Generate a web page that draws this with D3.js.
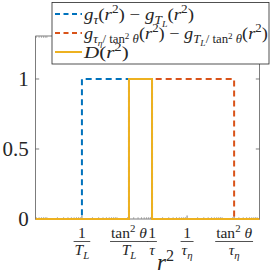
<!DOCTYPE html>
<html>
<head>
<meta charset="utf-8">
<script src="https://cdn.jsdelivr.net/npm/d3@7/dist/d3.min.js"></script>
<style>
  html, body { margin: 0; padding: 0; background: #fff; }
  svg { display: block; }
  text { font-family: "Liberation Serif", "Times New Roman", serif; fill: #262626; }
</style>
</head>
<body>
<div id="chart"></div>
<script>
// 数据：对数横轴上的阶跃函数（1/T_L = 1 为单位）
var xDomain = [0.048, 1.15e5];
var yDomain = [0, 1.307];
var yTicks = [0, 0.5, 1];
var yTickLabels = ['0', '0.5', '1'];
var xTicks = [1, 22, 100, 1000, 22000];

// 各条曲线的折点
var blueX = [0.048, 1, 1, 100, 100, 1.15e5];
var blueY = [0, 0, 1, 1, 0, 0];
var orangeX = [0.048, 22, 22, 22000, 22000, 1.15e5];
var orangeY = [0, 0, 1, 1, 0, 0];
var dX = [0.048, 22, 22, 100, 100, 1.15e5];
var dY = [0, 0, 1, 1, 0, 0];

var C = { blue: '#0072BD', orange: '#D95319', yellow: '#EDB120', axis: '#262626' };

// 数学文本片段：[文字, 'i'|'n', 层级]  层级 0 基线, 1 下标, 2 二级下标, -1 上标, 3 下标的上标
var LV = {
  0: { dy: 0, fs: 1 }, 1: { dy: 0.25, fs: 0.7 }, 2: { dy: 0.4, fs: 0.52 },
  '-1': { dy: -0.38, fs: 0.7 }, 3: { dy: 0.05, fs: 0.5 }
};
var legendRows = [
  { color: C.blue, dash: '5,3.5', w: 110, parts: [['g','i',0],['τ','i',1],['(','n',0],['r','i',0],['2','n',-1],[') − ','n',0],
    ['g','i',0],['T','i',1],['L','i',2],['(','n',0],['r','i',0],['2','n',-1],[')','n',0]] },
  { color: C.orange, dash: '5,3.5', w: 184, parts: [['g','i',0],['τ','i',1],['η','i',2],['/ tan','n',1],['2','n',3],[' θ','i',1],
    ['(','n',0],['r','i',0],['2','n',-1],[') − ','n',0],
    ['g','i',0],['T','i',1],['L','i',2],['/ tan','n',1],['2','n',3],[' θ','i',1],['(','n',0],['r','i',0],['2','n',-1],[')','n',0]] },
  { color: C.yellow, dash: null, w: 47, parts: [['D','i',0],['(','n',0],['r','i',0],['2','n',-1],[')','n',0]] }
];

var xTickNum = [
  [['1','n',0]], [['tan','n',0],['2','n',-1],[' θ','i',0]], [['1','n',0]], [['1','n',0]],
  [['tan','n',0],['2','n',-1],[' θ','i',0]]
];
var xTickDen = [
  [['T','i',0],['L','i',1]], [['T','i',0],['L','i',1]], [['τ','i',0]], [['τ','i',0],['η','i',1]], [['τ','i',0],['η','i',1]]
];

function mathText(sel, x, y, parts, size, anchor) {
  var t = sel.append('text').attr('x', x).attr('y', y).attr('font-size', size)
    .attr('text-anchor', anchor || 'start').attr('xml:space', 'preserve');
  var cur = 0;
  parts.forEach(function (p) {
    var lv = LV[p[2]];
    var off = lv.dy * size;
    t.append('tspan').text(p[0])
      .attr('dy', (off - cur).toFixed(2))
      .attr('font-size', (lv.fs * size).toFixed(2))
      .attr('font-style', p[1] === 'i' ? 'italic' : 'normal');
    cur = off;
  });
  return t;
}

var W = 277, H = 273;
var m = { l: 35.7, r: 259.3, t: 36, b: 219 };

var svg = d3.select('#chart').append('svg').attr('width', W).attr('height', H);

var x = d3.scaleLog().domain(xDomain).range([m.l, m.r]);
var y = d3.scaleLinear().domain(yDomain).range([m.b, m.t]);

// 轴框
var ax = svg.append('g');
ax.append('rect').attr('x', m.l).attr('y', m.t).attr('width', m.r - m.l).attr('height', m.b - m.t)
  .attr('fill', 'none').attr('stroke', C.axis).attr('stroke-width', 0.6);

// 次刻度（对数）
var minor = [];
for (var d = -2; d <= 5; d++) {
  for (var k = 1; k <= 9; k++) {
    var v = k * Math.pow(10, d);
    if (v > xDomain[0] && v < xDomain[1] && xTicks.indexOf(v) < 0) minor.push(v);
  }
}
minor.forEach(function (v) {
  ax.append('line').attr('x1', x(v)).attr('x2', x(v)).attr('y1', m.b).attr('y2', m.b - 2)
    .attr('stroke', '#777').attr('stroke-width', 0.5);
  ax.append('line').attr('x1', x(v)).attr('x2', x(v)).attr('y1', m.t).attr('y2', m.t + 2)
    .attr('stroke', '#777').attr('stroke-width', 0.5);
});
xTicks.forEach(function (v) {
  ax.append('line').attr('x1', x(v)).attr('x2', x(v)).attr('y1', m.b).attr('y2', m.b - 3.5)
    .attr('stroke', C.axis).attr('stroke-width', 0.6);
  ax.append('line').attr('x1', x(v)).attr('x2', x(v)).attr('y1', m.t).attr('y2', m.t + 3.5)
    .attr('stroke', C.axis).attr('stroke-width', 0.6);
});
yTicks.forEach(function (v, i) {
  ax.append('line').attr('x1', m.l).attr('x2', m.l + 3.5).attr('y1', y(v)).attr('y2', y(v))
    .attr('stroke', C.axis).attr('stroke-width', 0.6);
  ax.append('line').attr('x1', m.r).attr('x2', m.r - 3.5).attr('y1', y(v)).attr('y2', y(v))
    .attr('stroke', C.axis).attr('stroke-width', 0.6);
  ax.append('text').attr('x', m.l - 7).attr('y', y(v)).attr('dy', '0.34em')
    .attr('text-anchor', 'end').attr('font-size', 21).text(yTickLabels[i]);
});

// x 刻度标签（分数形式）
xTicks.forEach(function (v, i) {
  var cx = x(v);
  var num = mathText(svg, cx, 238, xTickNum[i], 15.5, 'middle');
  var den = mathText(svg, cx, 255, xTickDen[i], 15.5, 'middle');
  var w = Math.max(num.node().getComputedTextLength(), den.node().getComputedTextLength());
  svg.append('line').attr('x1', cx - w / 2 - 1).attr('x2', cx + w / 2 + 1).attr('y1', 241.5).attr('y2', 241.5)
    .attr('stroke', C.axis).attr('stroke-width', 0.8);
});

// x 轴标题
mathText(svg, 157, 270, [['r','i',0],['2','n',-1]], 23, 'start');

// 曲线
var line = d3.line().x(function (p) { return x(p[0]); }).y(function (p) { return y(p[1]); });
function series(xs, ys) { return xs.map(function (v, i) { return [v, ys[i]]; }); }
[[blueX, blueY, C.blue, '6,4'], [orangeX, orangeY, C.orange, '6,4'], [dX, dY, C.yellow, null]].forEach(function (s) {
  var p = svg.append('path').datum(series(s[0], s[1])).attr('d', line)
    .attr('fill', 'none').attr('stroke', s[2]).attr('stroke-width', 2);
  if (s[3]) p.attr('stroke-dasharray', s[3]);
});

// 图例
var lg = svg.append('g');
lg.append('rect').attr('x', 52).attr('y', 2.5).attr('width', 217).attr('height', 61.5)
  .attr('fill', '#fff').attr('stroke', C.axis).attr('stroke-width', 0.8);
legendRows.forEach(function (r, i) {
  var cy = 14 + i * 19;
  var ln = lg.append('line').attr('x1', 55).attr('x2', 82).attr('y1', cy).attr('y2', cy)
    .attr('stroke', r.color).attr('stroke-width', 2);
  if (r.dash) ln.attr('stroke-dasharray', r.dash);
  var tg = lg.append('g');
  var t = mathText(tg, 0, 0, r.parts, 17.5, 'start');
  var s = r.w / t.node().getComputedTextLength();
  s = Math.max(0.9, Math.min(1.2, s));
  tg.attr('transform', 'translate(84,' + (cy + 5.5) + ') scale(' + s.toFixed(3) + ',1)');
});
</script>
</body>
</html>
